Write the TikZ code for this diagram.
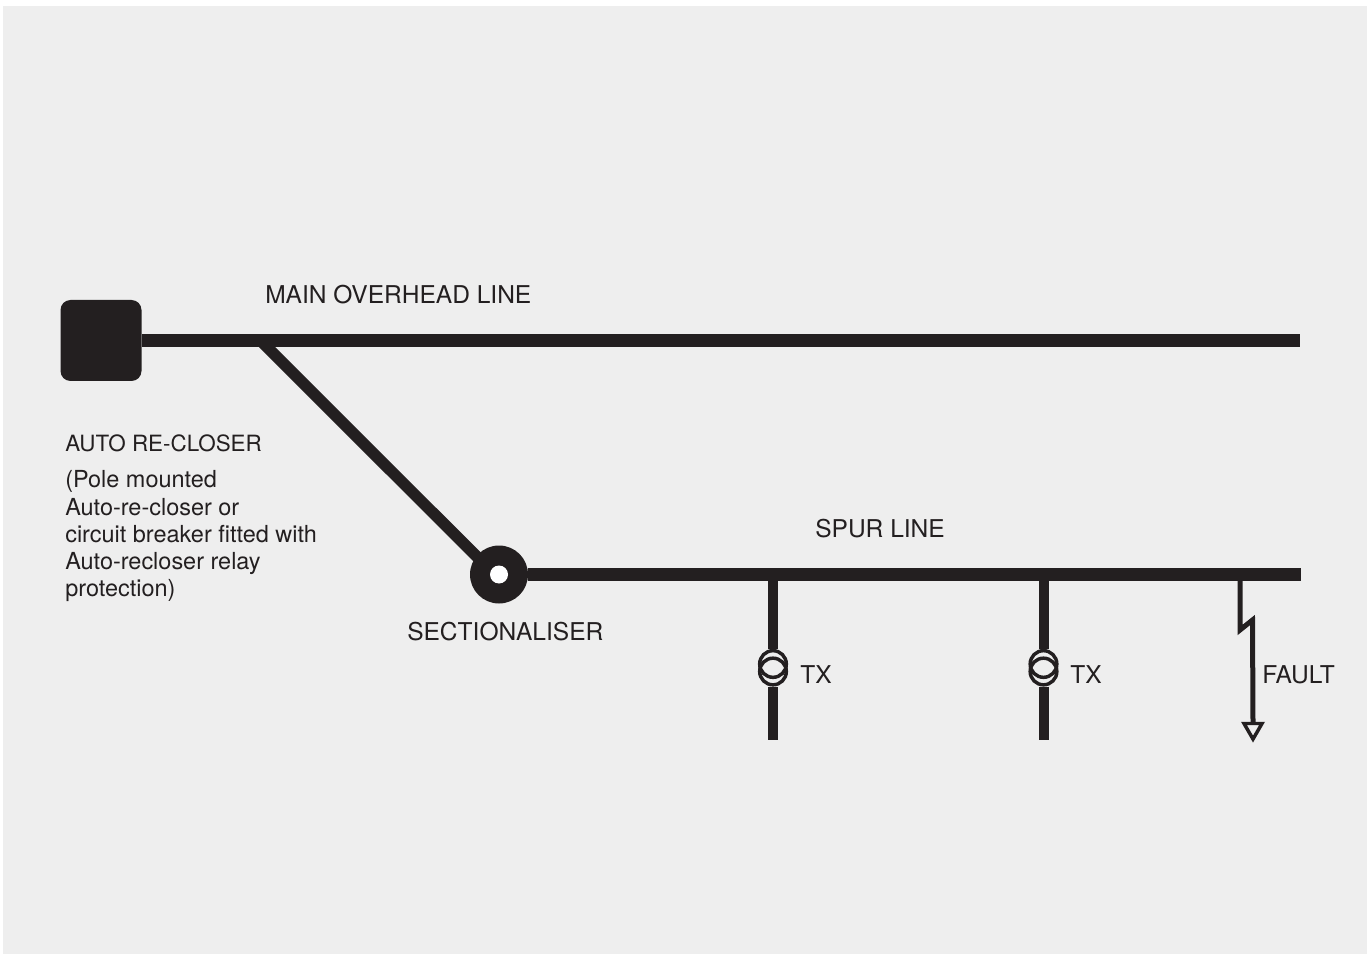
\documentclass[tikz,border=0pt]{standalone}
\usepackage{fontspec}
\setmainfont{TeX Gyre Heros}
\usetikzlibrary{shapes,positioning}
\definecolor{panelcolor}{RGB}{238,238,238}
\definecolor{linecolor}{RGB}{35,31,32}

\begin{document}
\begin{tikzpicture}[
    x=0.75pt, y=-0.75pt,
    heavy/.style={draw=linecolor, line width=9.6pt},
    drop/.style={draw=linecolor, line width=7.5pt},
    thin line/.style={draw=linecolor, line width=3.75pt, miter limit=10},
    coil/.style={circle, draw=linecolor, line width=2.6pt, minimum size=20pt, inner sep=0pt},
    caption/.style={inner sep=0pt, anchor=base west, text=linecolor, font=\fontsize{18.4}{20.4}\selectfont}
]
\useasboundingbox (0,0) rectangle (1367,955);
\fill[white] (0,0) rectangle (1367,955);
\fill[panelcolor] (3,6) rectangle (1367,954);

% Main line
\node[rectangle, fill=linecolor, rounded corners=7.5pt, minimum size=60.75pt, inner sep=0pt] (recloser) at (101,340.5) {};
\coordinate (mainend) at (1300,340.5);
\coordinate (maintap) at (260.5,340.5);
\node[caption] (mainlabel) at (265,304) {MAIN OVERHEAD LINE};

% Auto re-closer text
\node[caption, font=\fontsize{16.8}{20.4}\selectfont] (reclabel) at (65,451) {AUTO RE-CLOSER};
\node[caption, font=\fontsize{17.6}{20.4}\selectfont, anchor=north west, align=left] (recnote) at (65,470.5) {(Pole mounted\\Auto-re-closer or\\circuit breaker fitted with\\Auto-recloser relay\\protection)};

% Sectionaliser
\node[circle, fill=linecolor, minimum size=43.5pt, inner sep=0pt] (sect) at (499,574.5) {};
\node[circle, fill=white, minimum size=13.5pt, inner sep=0pt] (secthole) at (sect) {};
\node[caption] (sectlabel) at (407,640) {SECTIONALISER};

% Spur line
\coordinate (spurend) at (1301,574.5);
\node[caption] (spurlabel) at (815,537) {SPUR LINE};

% Transformers
\coordinate (tap1) at (773,574.5);
\node[coil] (tx1a) at (773,664) {};
\node[coil] (tx1b) at (773,671.5) {};
\coordinate (tx1end) at (773,740);
\node[caption] (tx1label) at (800,683.5) {TX};

\coordinate (tap2) at (1043.5,574.5);
\node[coil] (tx2a) at (1043.5,664) {};
\node[coil] (tx2b) at (1043.5,671.5) {};
\coordinate (tx2end) at (1043.5,740);
\node[caption] (tx2label) at (1070,683.5) {TX};

% Fault
\coordinate (faulttap) at (1240,574.5);
\coordinate (kink1) at (1240,630);
\coordinate (kink2) at (1252.5,620);
\node[regular polygon, regular polygon sides=3, shape border rotate=180, draw=linecolor, line width=2.6pt, minimum size=15.6pt, inner sep=0pt] (earth) at (1253,728.7) {};
\node[caption] (faultlabel) at (1262,683.5) {FAULT};

% Lines
\draw[heavy] (recloser) -- (mainend);
\draw[heavy, line width=8.6pt, shorten >=-2pt] (maintap) -- (sect.141);
\draw[heavy] (sect) -- (spurend);
\draw[drop] (tap1) -- (tx1a.north);
\draw[drop] (tx1b.south) -- (tx1end);
\draw[drop] (tap2) -- (tx2a.north);
\draw[drop] (tx2b.south) -- (tx2end);
\draw[thin line] (faulttap) -- (kink1) -- (kink2) -- (earth.north);

\end{tikzpicture}
\end{document}
